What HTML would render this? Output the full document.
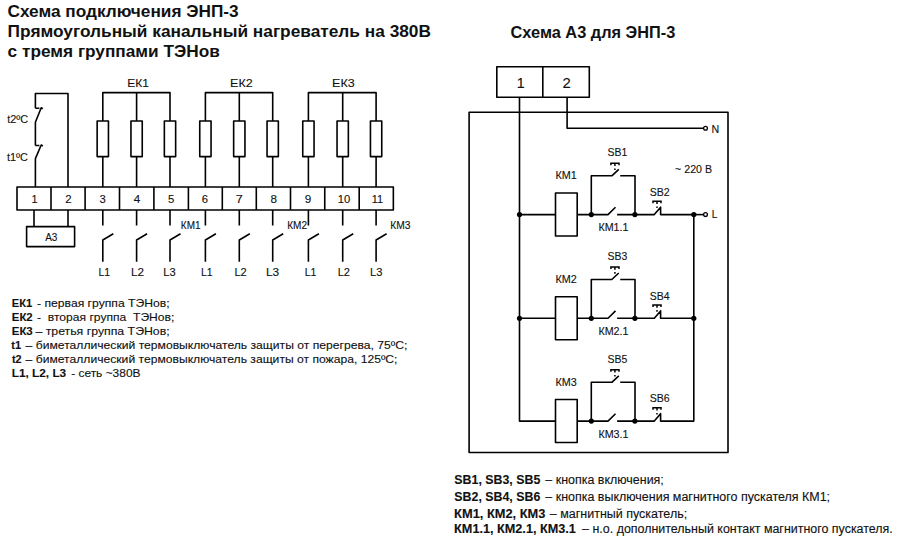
<!DOCTYPE html>
<html><head><meta charset="utf-8"><style>
html,body{margin:0;padding:0;background:#fff;overflow:hidden;}
svg{display:block;}
text{font-family:"Liberation Sans",sans-serif;fill:#111;stroke:#111;white-space:pre;}
</style></head><body>
<svg width="900" height="542" viewBox="0 0 900 542">
<rect x="17" y="187" width="376.35" height="23" stroke="#000" stroke-width="1.6" fill="none" stroke-linejoin="round"/>
<line x1="51.00" y1="187" x2="51.00" y2="210" stroke="#000" stroke-width="1.6" fill="none" stroke-linejoin="round"/>
<line x1="85.10" y1="187" x2="85.10" y2="210" stroke="#000" stroke-width="1.6" fill="none" stroke-linejoin="round"/>
<line x1="119.50" y1="187" x2="119.50" y2="210" stroke="#000" stroke-width="1.6" fill="none" stroke-linejoin="round"/>
<line x1="153.90" y1="187" x2="153.90" y2="210" stroke="#000" stroke-width="1.6" fill="none" stroke-linejoin="round"/>
<line x1="188.40" y1="187" x2="188.40" y2="210" stroke="#000" stroke-width="1.6" fill="none" stroke-linejoin="round"/>
<line x1="222.30" y1="187" x2="222.30" y2="210" stroke="#000" stroke-width="1.6" fill="none" stroke-linejoin="round"/>
<line x1="256.30" y1="187" x2="256.30" y2="210" stroke="#000" stroke-width="1.6" fill="none" stroke-linejoin="round"/>
<line x1="290.50" y1="187" x2="290.50" y2="210" stroke="#000" stroke-width="1.6" fill="none" stroke-linejoin="round"/>
<line x1="324.75" y1="187" x2="324.75" y2="210" stroke="#000" stroke-width="1.6" fill="none" stroke-linejoin="round"/>
<line x1="359.20" y1="187" x2="359.20" y2="210" stroke="#000" stroke-width="1.6" fill="none" stroke-linejoin="round"/>
<path d="M35.4,187 V158.6 L41.2,145 L42.8,146 M35.4,145.5 H39.4 M35.4,145.5 V122.3 L41.2,107.8 L42.8,108.8 M35.4,108.3 H39.4 M35.4,108.3 V93.5 H68 V187" stroke="#000" stroke-width="1.6" fill="none" stroke-linejoin="round"/>
<path d="M34,210 V226.5 M68,210 V226.5" stroke="#000" stroke-width="1.6" fill="none" stroke-linejoin="round"/>
<rect x="26.6" y="226.6" width="48" height="20" stroke="#000" stroke-width="1.6" fill="none" stroke-linejoin="round"/>
<path d="M102.80,187 V92.6 H170.00 V187 M136.60,92.6 V187" stroke="#000" stroke-width="1.6" fill="none" stroke-linejoin="round"/>
<rect x="97.15" y="121" width="11.3" height="35.6" fill="#fff" stroke="#000" stroke-width="1.6"  stroke-linejoin="round"/>
<rect x="130.95" y="121" width="11.3" height="35.6" fill="#fff" stroke="#000" stroke-width="1.6"  stroke-linejoin="round"/>
<rect x="164.35" y="121" width="11.3" height="35.6" fill="#fff" stroke="#000" stroke-width="1.6"  stroke-linejoin="round"/>
<path d="M205.40,187 V92.6 H272.70 V187 M239.30,92.6 V187" stroke="#000" stroke-width="1.6" fill="none" stroke-linejoin="round"/>
<rect x="199.75" y="121" width="11.3" height="35.6" fill="#fff" stroke="#000" stroke-width="1.6"  stroke-linejoin="round"/>
<rect x="233.65" y="121" width="11.3" height="35.6" fill="#fff" stroke="#000" stroke-width="1.6"  stroke-linejoin="round"/>
<rect x="267.05" y="121" width="11.3" height="35.6" fill="#fff" stroke="#000" stroke-width="1.6"  stroke-linejoin="round"/>
<path d="M308.40,187 V92.6 H376.10 V187 M342.70,92.6 V187" stroke="#000" stroke-width="1.6" fill="none" stroke-linejoin="round"/>
<rect x="302.75" y="121" width="11.3" height="35.6" fill="#fff" stroke="#000" stroke-width="1.6"  stroke-linejoin="round"/>
<rect x="337.05" y="121" width="11.3" height="35.6" fill="#fff" stroke="#000" stroke-width="1.6"  stroke-linejoin="round"/>
<rect x="370.45" y="121" width="11.3" height="35.6" fill="#fff" stroke="#000" stroke-width="1.6"  stroke-linejoin="round"/>
<path d="M102.80,210 V225.4 M102.80,261.8 V240 L113.30,233.8" stroke="#000" stroke-width="1.6" fill="none" stroke-linejoin="round"/>
<path d="M136.60,210 V225.4 M136.60,261.8 V240 L147.10,233.8" stroke="#000" stroke-width="1.6" fill="none" stroke-linejoin="round"/>
<path d="M170.00,210 V225.4 M170.00,261.8 V240 L180.50,233.8" stroke="#000" stroke-width="1.6" fill="none" stroke-linejoin="round"/>
<path d="M205.40,210 V225.4 M205.40,261.8 V240 L215.90,233.8" stroke="#000" stroke-width="1.6" fill="none" stroke-linejoin="round"/>
<path d="M239.30,210 V225.4 M239.30,261.8 V240 L249.80,233.8" stroke="#000" stroke-width="1.6" fill="none" stroke-linejoin="round"/>
<path d="M272.70,210 V225.4 M272.70,261.8 V240 L283.20,233.8" stroke="#000" stroke-width="1.6" fill="none" stroke-linejoin="round"/>
<path d="M308.40,210 V225.4 M308.40,261.8 V240 L318.90,233.8" stroke="#000" stroke-width="1.6" fill="none" stroke-linejoin="round"/>
<path d="M342.70,210 V225.4 M342.70,261.8 V240 L353.20,233.8" stroke="#000" stroke-width="1.6" fill="none" stroke-linejoin="round"/>
<path d="M376.10,210 V225.4 M376.10,261.8 V240 L386.60,233.8" stroke="#000" stroke-width="1.6" fill="none" stroke-linejoin="round"/>
<rect x="496.8" y="66.8" width="92.5" height="30.5" stroke="#000" stroke-width="1.6" fill="none" stroke-linejoin="round"/>
<line x1="542.8" y1="66.8" x2="542.8" y2="97.3" stroke="#000" stroke-width="1.6" fill="none" stroke-linejoin="round"/>
<rect x="469.1" y="112.2" width="258.9" height="340.3" stroke="#000" stroke-width="1.6" fill="none" stroke-linejoin="round"/>
<path d="M567.1,97.3 V128.3 H703.6" stroke="#000" stroke-width="1.6" fill="none" stroke-linejoin="round"/>
<circle cx="705.5" cy="128.3" r="1.9" stroke="#000" stroke-width="1.3" fill="#fff"/>
<path d="M519.5,97.3 V421.1 H555.5" stroke="#000" stroke-width="1.6" fill="none" stroke-linejoin="round"/>
<path d="M693.8,214.6 V421.1 H661" stroke="#000" stroke-width="1.6" fill="none" stroke-linejoin="round"/>
<path d="M693.8,214.6 H703.6" stroke="#000" stroke-width="1.6" fill="none" stroke-linejoin="round"/>
<circle cx="705.5" cy="214.6" r="1.9" stroke="#000" stroke-width="1.3" fill="#fff"/>
<path d="M519.5,214.6 H555.5" stroke="#000" stroke-width="1.6" fill="none" stroke-linejoin="round"/>
<circle cx="519.5" cy="214.6" r="2.6" fill="#000"/>
<circle cx="693.8" cy="214.6" r="2.6" fill="#000"/>
<path d="M661,214.6 H693.8" stroke="#000" stroke-width="1.6" fill="none" stroke-linejoin="round"/>
<rect x="555.5" y="193.0" width="21.7" height="43" stroke="#000" stroke-width="1.6" fill="none" stroke-linejoin="round"/>
<path d="M577.2,214.6 H608 L615.5,207.2 M617.1,214.6 H654.3 L660.6,207.2 V214.6 H661" stroke="#000" stroke-width="1.6" fill="none" stroke-linejoin="round"/>
<circle cx="591.3" cy="214.6" r="2.6" fill="#000"/>
<circle cx="634.9" cy="214.6" r="2.6" fill="#000"/>
<path d="M591.3,214.6 V175.8 H611.8 L618.8,169.3 M620.2,175.8 H635 V214.6" stroke="#000" stroke-width="1.6" fill="none" stroke-linejoin="round"/>
<path d="M610.9,165.2 V163.2 H619 V165.2 M614.9,163.2 V166.0 M614.9,168.4 V170.0" stroke="#000" stroke-width="1.5" fill="none"/>
<path d="M653,203.2 V201.2 H661 V203.2 M657,201.2 V204.0 M657,206.4 V208.0" stroke="#000" stroke-width="1.5" fill="none"/>
<path d="M519.5,318.3 H555.5" stroke="#000" stroke-width="1.6" fill="none" stroke-linejoin="round"/>
<circle cx="519.5" cy="318.3" r="2.6" fill="#000"/>
<circle cx="693.8" cy="318.3" r="2.6" fill="#000"/>
<path d="M661,318.3 H693.8" stroke="#000" stroke-width="1.6" fill="none" stroke-linejoin="round"/>
<rect x="555.5" y="296.7" width="21.7" height="43" stroke="#000" stroke-width="1.6" fill="none" stroke-linejoin="round"/>
<path d="M577.2,318.3 H608 L615.5,310.9 M617.1,318.3 H654.3 L660.6,310.9 V318.3 H661" stroke="#000" stroke-width="1.6" fill="none" stroke-linejoin="round"/>
<circle cx="591.3" cy="318.3" r="2.6" fill="#000"/>
<circle cx="634.9" cy="318.3" r="2.6" fill="#000"/>
<path d="M591.3,318.3 V279.5 H611.8 L618.8,273.0 M620.2,279.5 H635 V318.3" stroke="#000" stroke-width="1.6" fill="none" stroke-linejoin="round"/>
<path d="M610.9,268.9 V266.9 H619 V268.9 M614.9,266.9 V269.7 M614.9,272.1 V273.7" stroke="#000" stroke-width="1.5" fill="none"/>
<path d="M653,306.9 V304.9 H661 V306.9 M657,304.9 V307.7 M657,310.1 V311.7" stroke="#000" stroke-width="1.5" fill="none"/>
<rect x="555.5" y="399.5" width="21.7" height="43" stroke="#000" stroke-width="1.6" fill="none" stroke-linejoin="round"/>
<path d="M577.2,421.1 H608 L615.5,413.7 M617.1,421.1 H654.3 L660.6,413.7 V421.1 H661" stroke="#000" stroke-width="1.6" fill="none" stroke-linejoin="round"/>
<circle cx="591.3" cy="421.1" r="2.6" fill="#000"/>
<circle cx="634.9" cy="421.1" r="2.6" fill="#000"/>
<path d="M591.3,421.1 V382.3 H611.8 L618.8,375.8 M620.2,382.3 H635 V421.1" stroke="#000" stroke-width="1.6" fill="none" stroke-linejoin="round"/>
<path d="M610.9,371.7 V369.7 H619 V371.7 M614.9,369.7 V372.5 M614.9,374.9 V376.5" stroke="#000" stroke-width="1.5" fill="none"/>
<path d="M653,409.7 V407.7 H661 V409.7 M657,407.7 V410.5 M657,412.9 V414.5" stroke="#000" stroke-width="1.5" fill="none"/>
<text x="31.51" y="202.70" font-size="11.5" font-weight="normal" stroke-width="0.12" textLength="6.09" lengthAdjust="spacingAndGlyphs">1</text>
<text x="65.30" y="202.70" font-size="11.5" font-weight="normal" stroke-width="0.12" textLength="6.35" lengthAdjust="spacingAndGlyphs">2</text>
<text x="99.61" y="202.70" font-size="11.5" font-weight="normal" stroke-width="0.12" textLength="6.29" lengthAdjust="spacingAndGlyphs">3</text>
<text x="133.85" y="202.70" font-size="11.5" font-weight="normal" stroke-width="0.12" textLength="6.46" lengthAdjust="spacingAndGlyphs">4</text>
<text x="168.01" y="202.70" font-size="11.5" font-weight="normal" stroke-width="0.12" textLength="6.29" lengthAdjust="spacingAndGlyphs">5</text>
<text x="201.81" y="202.70" font-size="11.5" font-weight="normal" stroke-width="0.12" textLength="6.29" lengthAdjust="spacingAndGlyphs">6</text>
<text x="235.86" y="202.70" font-size="11.5" font-weight="normal" stroke-width="0.12" textLength="7.05" lengthAdjust="spacingAndGlyphs">7</text>
<text x="270.49" y="202.70" font-size="11.5" font-weight="normal" stroke-width="0.12" textLength="6.52" lengthAdjust="spacingAndGlyphs">8</text>
<text x="304.89" y="202.70" font-size="11.5" font-weight="normal" stroke-width="0.12" textLength="6.52" lengthAdjust="spacingAndGlyphs">9</text>
<text x="337.67" y="202.70" font-size="11.5" font-weight="normal" stroke-width="0.12" textLength="12.46" lengthAdjust="spacingAndGlyphs">10</text>
<text x="371.78" y="202.70" font-size="11.5" font-weight="normal" stroke-width="0.12" textLength="11.36" lengthAdjust="spacingAndGlyphs">11</text>
<text x="7.20" y="122.60" font-size="11.5" font-weight="normal" stroke-width="0.12" textLength="21.00" lengthAdjust="spacingAndGlyphs">t2ºC</text>
<text x="7.00" y="161.00" font-size="11.5" font-weight="normal" stroke-width="0.12" textLength="21.00" lengthAdjust="spacingAndGlyphs">t1ºC</text>
<text x="45.16" y="240.50" font-size="10.5" font-weight="normal" stroke-width="0.12" textLength="12.20" lengthAdjust="spacingAndGlyphs">А3</text>
<text x="127.36" y="86.70" font-size="11.5" font-weight="normal" stroke-width="0.12" textLength="21.57" lengthAdjust="spacingAndGlyphs">ЕК1</text>
<text x="230.11" y="86.70" font-size="11.5" font-weight="normal" stroke-width="0.12" textLength="22.55" lengthAdjust="spacingAndGlyphs">ЕК2</text>
<text x="332.11" y="86.70" font-size="11.5" font-weight="normal" stroke-width="0.12" textLength="22.55" lengthAdjust="spacingAndGlyphs">ЕК3</text>
<text x="98.44" y="275.50" font-size="11" font-weight="normal" stroke-width="0.12" textLength="11.64" lengthAdjust="spacingAndGlyphs">L1</text>
<text x="131.04" y="275.50" font-size="11" font-weight="normal" stroke-width="0.12" textLength="12.99" lengthAdjust="spacingAndGlyphs">L2</text>
<text x="163.39" y="275.50" font-size="11" font-weight="normal" stroke-width="0.12" textLength="12.42" lengthAdjust="spacingAndGlyphs">L3</text>
<text x="200.94" y="275.50" font-size="11" font-weight="normal" stroke-width="0.12" textLength="11.64" lengthAdjust="spacingAndGlyphs">L1</text>
<text x="234.40" y="275.50" font-size="11" font-weight="normal" stroke-width="0.12" textLength="12.31" lengthAdjust="spacingAndGlyphs">L2</text>
<text x="265.92" y="275.50" font-size="11" font-weight="normal" stroke-width="0.12" textLength="13.22" lengthAdjust="spacingAndGlyphs">L3</text>
<text x="304.69" y="275.50" font-size="11" font-weight="normal" stroke-width="0.12" textLength="11.64" lengthAdjust="spacingAndGlyphs">L1</text>
<text x="337.70" y="275.50" font-size="11" font-weight="normal" stroke-width="0.12" textLength="12.31" lengthAdjust="spacingAndGlyphs">L2</text>
<text x="369.99" y="275.50" font-size="11" font-weight="normal" stroke-width="0.12" textLength="12.42" lengthAdjust="spacingAndGlyphs">L3</text>
<text x="180.85" y="229.10" font-size="10" font-weight="normal" stroke-width="0.12" textLength="19.61" lengthAdjust="spacingAndGlyphs">КМ1</text>
<text x="287.25" y="229.10" font-size="10" font-weight="normal" stroke-width="0.12" textLength="19.83" lengthAdjust="spacingAndGlyphs">КМ2</text>
<text x="390.23" y="229.10" font-size="10" font-weight="normal" stroke-width="0.12" textLength="20.15" lengthAdjust="spacingAndGlyphs">КМ3</text>
<text x="516.84" y="88.00" font-size="15" font-weight="normal" stroke-width="0.12" textLength="7.93" lengthAdjust="spacingAndGlyphs">1</text>
<text x="562.46" y="88.00" font-size="15" font-weight="normal" stroke-width="0.12" textLength="8.28" lengthAdjust="spacingAndGlyphs">2</text>
<text x="711.43" y="132.60" font-size="11" font-weight="normal" stroke-width="0.12" textLength="7.69" lengthAdjust="spacingAndGlyphs">N</text>
<text x="675.12" y="173.10" font-size="11" font-weight="normal" stroke-width="0.12" textLength="36.85" lengthAdjust="spacingAndGlyphs">~ 220 В</text>
<text x="711.63" y="218.20" font-size="10.5" font-weight="normal" stroke-width="0.12" textLength="5.55" lengthAdjust="spacingAndGlyphs">L</text>
<text x="555.42" y="179.20" font-size="11" font-weight="normal" stroke-width="0.12" textLength="21.33" lengthAdjust="spacingAndGlyphs">КМ1</text>
<text x="607.49" y="156.20" font-size="11" font-weight="normal" stroke-width="0.12" textLength="19.76" lengthAdjust="spacingAndGlyphs">SB1</text>
<text x="649.72" y="195.80" font-size="11" font-weight="normal" stroke-width="0.12" textLength="20.01" lengthAdjust="spacingAndGlyphs">SB2</text>
<text x="598.43" y="231.20" font-size="11" font-weight="normal" stroke-width="0.12" textLength="30.08" lengthAdjust="spacingAndGlyphs">КМ1.1</text>
<text x="555.42" y="282.90" font-size="11" font-weight="normal" stroke-width="0.12" textLength="21.33" lengthAdjust="spacingAndGlyphs">КМ2</text>
<text x="607.49" y="259.90" font-size="11" font-weight="normal" stroke-width="0.12" textLength="19.76" lengthAdjust="spacingAndGlyphs">SB3</text>
<text x="649.72" y="299.50" font-size="11" font-weight="normal" stroke-width="0.12" textLength="19.76" lengthAdjust="spacingAndGlyphs">SB4</text>
<text x="598.43" y="334.90" font-size="11" font-weight="normal" stroke-width="0.12" textLength="30.08" lengthAdjust="spacingAndGlyphs">КМ2.1</text>
<text x="555.42" y="385.70" font-size="11" font-weight="normal" stroke-width="0.12" textLength="21.33" lengthAdjust="spacingAndGlyphs">КМ3</text>
<text x="607.49" y="362.70" font-size="11" font-weight="normal" stroke-width="0.12" textLength="19.76" lengthAdjust="spacingAndGlyphs">SB5</text>
<text x="649.72" y="402.30" font-size="11" font-weight="normal" stroke-width="0.12" textLength="20.01" lengthAdjust="spacingAndGlyphs">SB6</text>
<text x="598.43" y="437.70" font-size="11" font-weight="normal" stroke-width="0.12" textLength="30.08" lengthAdjust="spacingAndGlyphs">КМ3.1</text>
<text x="510.55" y="38.10" font-size="16.3" font-weight="bold" stroke-width="0" textLength="164.72" lengthAdjust="spacingAndGlyphs">Схема А3 для ЭНП-3</text>
<text x="7.44" y="16.60" font-size="17" font-weight="bold" stroke-width="0" textLength="231.25" lengthAdjust="spacingAndGlyphs">Схема подключения ЭНП-3</text>
<text x="7.63" y="37.40" font-size="17" font-weight="bold" stroke-width="0" textLength="423.34" lengthAdjust="spacingAndGlyphs">Прямоугольный канальный нагреватель на 380В</text>
<text x="7.64" y="56.50" font-size="17" font-weight="bold" stroke-width="0" textLength="212.19" lengthAdjust="spacingAndGlyphs">с тремя группами ТЭНов</text>
<text x="11.78" y="307.30" font-size="11.5" font-weight="bold" stroke-width="0.1" textLength="20.36" lengthAdjust="spacingAndGlyphs">ЕК1</text>
<text x="37.07" y="307.30" font-size="11.5" font-weight="normal" stroke-width="0.12" textLength="132.49" lengthAdjust="spacingAndGlyphs">- первая группа ТЭНов;</text>
<text x="11.75" y="321.18" font-size="11.5" font-weight="bold" stroke-width="0.1" textLength="20.99" lengthAdjust="spacingAndGlyphs">ЕК2</text>
<text x="37.07" y="321.18" font-size="11.5" font-weight="normal" stroke-width="0.12" textLength="137.26" lengthAdjust="spacingAndGlyphs">-&#160; вторая группа&#160; ТЭНов;</text>
<text x="11.75" y="335.06" font-size="11.5" font-weight="bold" stroke-width="0.1" textLength="20.99" lengthAdjust="spacingAndGlyphs">ЕК3</text>
<text x="35.40" y="335.06" font-size="11.5" font-weight="normal" stroke-width="0.12" textLength="134.29" lengthAdjust="spacingAndGlyphs">– третья группа ТЭНов;</text>
<text x="11.28" y="348.94" font-size="11.5" font-weight="bold" stroke-width="0.1" textLength="9.72" lengthAdjust="spacingAndGlyphs">t1</text>
<text x="25.60" y="348.94" font-size="11.5" font-weight="normal" stroke-width="0.12" textLength="381.71" lengthAdjust="spacingAndGlyphs">– биметаллический термовыключатель защиты от перегрева, 75ºС;</text>
<text x="11.95" y="362.82" font-size="11.5" font-weight="bold" stroke-width="0.1" textLength="9.72" lengthAdjust="spacingAndGlyphs">t2</text>
<text x="25.60" y="362.82" font-size="11.5" font-weight="normal" stroke-width="0.12" textLength="371.89" lengthAdjust="spacingAndGlyphs">– биметаллический термовыключатель защиты от пожара, 125ºС;</text>
<text x="11.73" y="376.70" font-size="11.5" font-weight="bold" stroke-width="0.1" textLength="54.48" lengthAdjust="spacingAndGlyphs">L1, L2, L3</text>
<text x="71.18" y="376.70" font-size="11.5" font-weight="normal" stroke-width="0.12" textLength="69.32" lengthAdjust="spacingAndGlyphs">- сеть ~380В</text>
<text x="454.38" y="484.20" font-size="12" font-weight="bold" stroke-width="0.1" textLength="85.90" lengthAdjust="spacingAndGlyphs">SB1, SB3, SB5</text>
<text x="545.30" y="484.20" font-size="12" font-weight="normal" stroke-width="0.12" textLength="118.52" lengthAdjust="spacingAndGlyphs">– кнопка включения;</text>
<text x="454.38" y="500.70" font-size="12" font-weight="bold" stroke-width="0.1" textLength="85.90" lengthAdjust="spacingAndGlyphs">SB2, SB4, SB6</text>
<text x="545.30" y="500.70" font-size="12" font-weight="normal" stroke-width="0.12" textLength="284.74" lengthAdjust="spacingAndGlyphs">– кнопка выключения магнитного пускателя КМ1;</text>
<text x="454.10" y="517.50" font-size="12" font-weight="bold" stroke-width="0.1" textLength="91.35" lengthAdjust="spacingAndGlyphs">КМ1, КМ2, КМ3</text>
<text x="549.80" y="517.50" font-size="12" font-weight="normal" stroke-width="0.12" textLength="137.38" lengthAdjust="spacingAndGlyphs">– магнитный пускатель;</text>
<text x="454.11" y="533.30" font-size="12" font-weight="bold" stroke-width="0.1" textLength="121.75" lengthAdjust="spacingAndGlyphs">КМ1.1, КМ2.1, КМ3.1</text>
<text x="582.10" y="533.30" font-size="12" font-weight="normal" stroke-width="0.12" textLength="310.70" lengthAdjust="spacingAndGlyphs">– н.о. дополнительный контакт магнитного пускателя.</text>
</svg>
</body></html>
